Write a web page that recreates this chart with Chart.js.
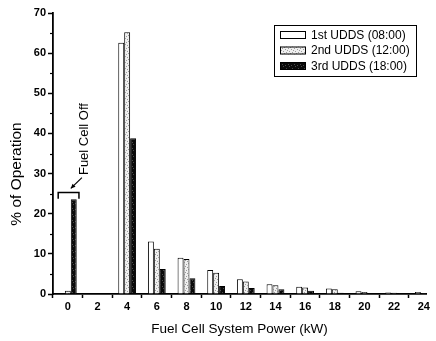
<!DOCTYPE html>
<html>
<head>
<meta charset="utf-8">
<title>Fuel Cell System Power</title>
<script src="https://cdn.jsdelivr.net/npm/chart.js@4.4.1/dist/chart.umd.min.js"></script>
<style>
  html, body { margin: 0; padding: 0; background: #fff; }
  #wrap { width: 436px; height: 341px; position: relative; }
</style>
</head>
<body>
<div id="wrap"><canvas id="powerChart"></canvas></div>
<script>
/* ─── Data: share of operating time per power bin ─── */
const POWER_KW   = [0, 2, 4, 6, 8, 10, 12, 14, 16, 18, 20, 22, 24];
const X_TICKS    = [0, 2, 4, 6, 8, 10, 12, 14, 16, 18, 20, 22, 24];
const Y_TICKS    = [0, 10, 20, 30, 40, 50, 60, 70];
const Y_MINOR    = [5, 15, 25, 35, 45, 55, 65];
const SERIES     = ['1st UDDS (08:00)', '2nd UDDS (12:00)', '3rd UDDS (18:00)'];
const UDDS_1ST   = [null, null, 62.6, 13.1, 9.0, 6.0, 3.7, 2.4, 1.8, 1.4, 0.7, 0.4, 0.5];
const UDDS_2ND   = [0.8, null, 65.2, 11.3, 8.7, 5.3, 3.1, 2.2, 1.6, 1.2, 0.5, 0.3, 0.2];
const UDDS_3RD   = [23.6, null, 38.8, 6.2, 3.9, 2.0, 1.5, 1.2, 0.8, 0.3, 0.2, 0.2, 0.1];

const FONT = "'Liberation Sans', Arial, sans-serif";

/* ─── Fill patterns (stippled gray, dark speckle) ─── */
function makePattern(size, bg, dot, cells) {
  const c = document.createElement('canvas');
  c.width = size; c.height = size;
  const g = c.getContext('2d');
  g.fillStyle = bg;
  g.fillRect(0, 0, size, size);
  g.fillStyle = dot;
  cells.forEach(([x, y]) => g.fillRect(x, y, 1, 1));
  return g.createPattern(c, 'repeat');
}
const FILL_WHITE = '#ffffff';
const FILL_GRAY  = makePattern(6, '#efefef', '#9c9c9c',
  [[0, 0], [3, 1], [5, 2], [1, 3], [4, 4], [2, 5]]);
const FILL_DARK  = makePattern(6, '#0a0a0a', '#4a4a4a',
  [[1, 0], [4, 2], [0, 4], [3, 5]]);

const toPoints = arr => POWER_KW.map((x, i) => ({ x, y: arr[i] }));

/* ─── Extras: minor ticks, y title, boxed legend, "Fuel Cell Off" note ─── */
const extrasPlugin = {
  id: 'extras',
  afterDraw(chart) {
    const { ctx, scales: { x, y } } = chart;
    ctx.save();
    ctx.strokeStyle = '#000';
    ctx.fillStyle = '#000';

    // minor y ticks
    ctx.lineWidth = 1.2;
    Y_MINOR.forEach(v => {
      const py = Math.round(y.getPixelForValue(v)) + 0.5;
      ctx.beginPath();
      ctx.moveTo(x.left - 3, py);
      ctx.lineTo(x.left, py);
      ctx.stroke();
    });

    // y axis title
    ctx.save();
    ctx.translate(17, 174);
    ctx.rotate(-Math.PI / 2);
    ctx.font = `15.5px ${FONT}`;
    ctx.textAlign = 'center';
    ctx.textBaseline = 'middle';
    ctx.fillText('% of Operation', 0, 0);
    ctx.restore();

    // legend box
    const lx = 274, ly = 25, lw = 142, lh = 51;
    ctx.lineWidth = 1;
    ctx.strokeRect(lx + 0.5, ly + 0.5, lw, lh);
    ctx.font = `12px ${FONT}`;
    ctx.textAlign = 'left';
    ctx.textBaseline = 'middle';
    chart.data.datasets.forEach((ds, i) => {
      const ry = ly + 10 + i * 15.5;
      ctx.fillStyle = ds.backgroundColor;
      ctx.fillRect(lx + 6, ry - 4, 26, 8);
      ctx.strokeRect(lx + 6.5, ry - 3.5, 25, 7);
      ctx.fillStyle = '#000';
      ctx.fillText(ds.label, lx + 37, ry + 0.5);
    });

    // bracket over the 0 kW bin
    const bx0 = x.getPixelForValue(-0.65), bx1 = x.getPixelForValue(0.75);
    const byTop = y.getPixelForValue(25.3), byLeg = y.getPixelForValue(23.7);
    ctx.lineWidth = 1.5;
    ctx.beginPath();
    ctx.moveTo(bx0, byLeg);
    ctx.lineTo(bx0, byTop);
    ctx.lineTo(bx1, byTop);
    ctx.lineTo(bx1, byLeg);
    ctx.stroke();

    // arrow pointing to the bracket
    const ax0 = x.getPixelForValue(0.2), ay0 = y.getPixelForValue(26.3);
    const ax1 = x.getPixelForValue(0.95), ay1 = y.getPixelForValue(29.0);
    ctx.lineWidth = 1.2;
    ctx.beginPath();
    ctx.moveTo(ax1, ay1);
    ctx.lineTo(ax0, ay0);
    ctx.stroke();
    const ang = Math.atan2(ay0 - ay1, ax0 - ax1);
    ctx.beginPath();
    ctx.moveTo(ax0, ay0);
    ctx.lineTo(ax0 - 5 * Math.cos(ang - 0.45), ay0 - 5 * Math.sin(ang - 0.45));
    ctx.lineTo(ax0 - 5 * Math.cos(ang + 0.45), ay0 - 5 * Math.sin(ang + 0.45));
    ctx.closePath();
    ctx.fill();

    // vertical note
    ctx.save();
    ctx.translate(x.getPixelForValue(1.1), y.getPixelForValue(38.6));
    ctx.rotate(-Math.PI / 2);
    ctx.font = `13px ${FONT}`;
    ctx.textAlign = 'center';
    ctx.textBaseline = 'middle';
    ctx.fillText('Fuel Cell Off', 0, 0);
    ctx.restore();

    ctx.restore();
  },
};

/* ─── Grouped bar chart ─── */
function createPowerChart(canvasId) {
  const el = document.getElementById(canvasId);
  if (!el) return null;

  const fills = [FILL_WHITE, FILL_GRAY, FILL_DARK];
  const values = [UDDS_1ST, UDDS_2ND, UDDS_3RD];

  const datasets = SERIES.map((label, i) => ({
    label,
    data: toPoints(values[i]),
    backgroundColor: fills[i],
    borderColor: '#000',
    borderWidth: 1,
    categoryPercentage: 0.6,
    barPercentage: 1.0,
  }));

  return new Chart(el, {
    type: 'bar',
    data: { datasets },
    plugins: [extrasPlugin],
    options: {
      responsive: true,
      maintainAspectRatio: false,
      animation: false,
      layout: { padding: { top: 13, right: 10, bottom: 0, left: 0 } },
      plugins: {
        legend: { display: false },
        tooltip: { enabled: false },
      },
      scales: {
        x: {
          type: 'linear',
          min: -1,
          max: 24.15,
          offset: false,
          afterBuildTicks: s => { s.ticks = X_TICKS.map(v => ({ value: v })); },
          afterFit: s => { s.height = 47; },
          grid: { drawOnChartArea: false, tickLength: 4, tickColor: '#000', tickWidth: 1.5 },
          border: { color: '#000', width: 1.8 },
          ticks: { color: '#000', padding: 2, font: { family: FONT, size: 11, weight: 'bold' } },
          title: {
            display: true,
            text: 'Fuel Cell System Power (kW)',
            color: '#000',
            font: { family: FONT, size: 13.5 },
            padding: { top: 4, bottom: 4 },
          },
        },
        y: {
          min: 0,
          max: 70,
          afterBuildTicks: s => { s.ticks = Y_TICKS.map(v => ({ value: v })); },
          afterFit: s => { s.width = 53; },
          grid: { drawOnChartArea: false, tickLength: 5, tickColor: '#000', tickWidth: 1.5 },
          border: { color: '#000', width: 1.8 },
          ticks: { color: '#000', padding: 2, font: { family: FONT, size: 11, weight: 'bold' } },
        },
      },
    },
  });
}

createPowerChart('powerChart');
</script>
</body>
</html>
